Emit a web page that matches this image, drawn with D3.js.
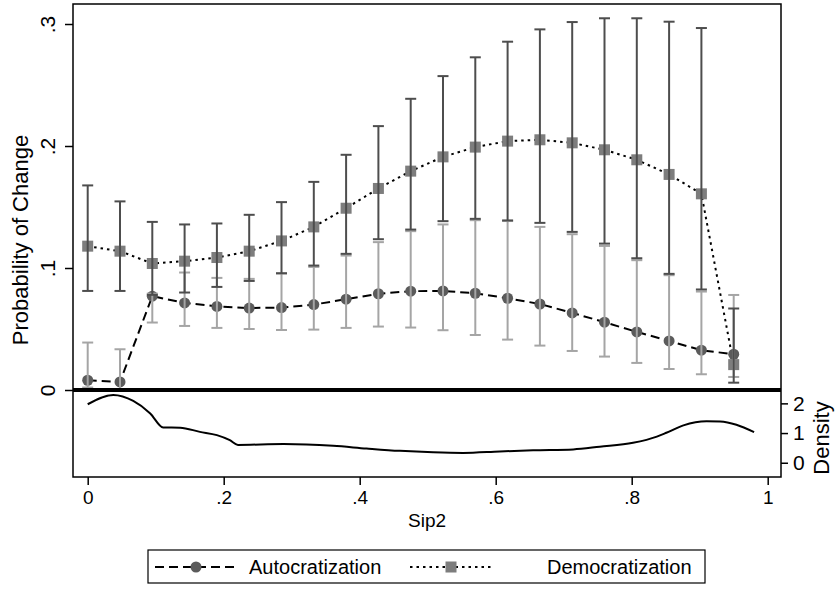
<!DOCTYPE html>
<html>
<head>
<meta charset="utf-8">
<script src="https://cdn.jsdelivr.net/npm/d3@7/dist/d3.min.js"></script>
<style>
  body { margin: 0; background: #fff; }
  svg { font-family: "Liberation Sans", Arial, sans-serif; }
</style>
</head>
<body>
<svg class="chart"></svg>
<script>
// Predicted probabilities by Sip2
const sip2 = [0, .0475, .095, .1425, .19, .2375, .285, .3325, .38, .4275, .475,
  .5225, .57, .6175, .665, .7125, .76, .8075, .855, .9025, .95];

const autoc = [0.008, 0.0066, 0.0769, 0.0714, 0.0685, 0.0672, 0.0676, 0.070, 0.0744, 0.0789, 0.081,
  0.0812, 0.0793, 0.0752, 0.0705, 0.0632, 0.0556, 0.0476, 0.0402, 0.0326, 0.0293];
const autocLo = [0.002, 0.0005, 0.0553, 0.0525, 0.0509, 0.050, 0.0492, 0.0495, 0.0509, 0.052, 0.0512,
  0.049, 0.0451, 0.0413, 0.0364, 0.032, 0.0274, 0.0222, 0.0172, 0.0129, 0.0107];
const autocHi = [0.0389, 0.0334, 0.079, 0.0963, 0.0919, 0.0911, 0.0955, 0.1009, 0.1102, 0.1212, 0.1302,
  0.1357, 0.1392, 0.1385, 0.1337, 0.1277, 0.1181, 0.1064, 0.0941, 0.0807, 0.0779];

const demo = [0.1179, 0.1138, 0.1037, 0.1056, 0.1086, 0.1138, 0.1222, 0.1337, 0.149, 0.1652, 0.1794,
  0.1911, 0.1991, 0.204, 0.2051, 0.2026, 0.1969, 0.1887, 0.1767, 0.1608, 0.0208];
const demoLo = [0.0812, 0.0812, 0.078, 0.0799, 0.0845, 0.0894, 0.0957, 0.102, 0.1116, 0.1236, 0.1315,
  0.1384, 0.1403, 0.139, 0.137, 0.1296, 0.12, 0.108, 0.0952, 0.0824, 0.006];
const demoHi = [0.1677, 0.1546, 0.1378, 0.1357, 0.1365, 0.1436, 0.154, 0.1706, 0.1928, 0.2163, 0.2387,
  0.2573, 0.2727, 0.2855, 0.2956, 0.3016, 0.3047, 0.3047, 0.3019, 0.2967, 0.0668];

// Kernel density of Sip2
const densX = [0, 0.0376, 0.067, 0.092, 0.111, 0.136, 0.165, 0.19, 0.209, 0.221, 0.288, 0.361, 0.41,
  0.459, 0.508, 0.552, 0.606, 0.655, 0.714, 0.753, 0.802, 0.837, 0.851, 0.876, 0.91, 0.93, 0.954, 0.98];
const densY = [1.97, 2.28, 2.08, 1.66, 1.19, 1.18, 1.04, 0.93, 0.76, 0.6, 0.63, 0.57, 0.48,
  0.4, 0.35, 0.33, 0.38, 0.42, 0.45, 0.54, 0.67, 0.88, 1.01, 1.26, 1.4, 1.39, 1.28, 1.03];

const xTicks = [0, .2, .4, .6, .8, 1];
const xTickLabels = ['0', '.2', '.4', '.6', '.8', '1'];
const yTicks = [0, .1, .2, .3];
const yTickLabels = ['0', '.1', '.2', '.3'];
const densTicks = [0, 1, 2];

const series = [
  { name: 'Autocratization', y: autoc, lo: autocLo, hi: autocHi },
  { name: 'Democratization', y: demo, lo: demoLo, hi: demoHi }
];

const svgWidth = 835;
const svgHeight = 592;
const plotLeft = 73, plotRight = 781, plotTop = 4, plotMid = 390, plotBottom = 477;

const svg = d3.select('.chart')
  .attr('width', svgWidth)
  .attr('height', svgHeight);

const xScale = d3.scaleLinear().domain([0, 1]).range([87.7, 767.7]);
const yScale = d3.scaleLinear().domain([0, 0.3164]).range([plotMid, plotTop]);
const dScale = d3.scaleLinear().domain([-0.48, 2.45]).range([plotBottom, plotMid]);

const darkCI = '#4d4d4d';
const lightCI = '#a5a5a5';
const circleFill = '#5b5b5b';
const squareFill = '#7d7d7d';

// Connecting lines
const line = (s) => d3.line()
  .x((d, i) => xScale(sip2[i]))
  .y(d => yScale(d))(s);

svg.append('path')
  .attr('d', line(autoc))
  .attr('fill', 'none')
  .attr('stroke', 'black')
  .attr('stroke-width', 2)
  .attr('stroke-dasharray', '9 5');

svg.append('path')
  .attr('d', line(demo))
  .attr('fill', 'none')
  .attr('stroke', 'black')
  .attr('stroke-width', 2)
  .attr('stroke-dasharray', '2.5 4');

// Markers
svg.selectAll('circle.autoc')
  .data(autoc)
  .enter()
  .append('circle')
  .attr('class', 'autoc')
  .attr('cx', (d, i) => xScale(sip2[i]))
  .attr('cy', d => yScale(d))
  .attr('r', 5.5)
  .attr('fill', circleFill);

svg.selectAll('rect.demo')
  .data(demo)
  .enter()
  .append('rect')
  .attr('class', 'demo')
  .attr('x', (d, i) => xScale(sip2[i]) - 5.5)
  .attr('y', d => yScale(d) - 5.5)
  .attr('width', 11)
  .attr('height', 11)
  .attr('fill', squareFill);

// Confidence intervals (light for autocratization, dark for democratization)
function drawCI(s, color) {
  const g = svg.append('g').attr('stroke', color).attr('stroke-width', 2);
  s.lo.forEach((lo, i) => {
    const x = xScale(sip2[i]);
    g.append('line')
      .attr('x1', x).attr('x2', x)
      .attr('y1', yScale(lo)).attr('y2', yScale(s.hi[i]));
    [lo, s.hi[i]].forEach(v => {
      g.append('line')
        .attr('x1', x - 5.5).attr('x2', x + 5.5)
        .attr('y1', yScale(v)).attr('y2', yScale(v));
    });
  });
}
drawCI(series[0], lightCI);
drawCI(series[1], darkCI);

// Density curve in lower panel
svg.append('path')
  .datum(densX.map((x, i) => [x, densY[i]]))
  .attr('fill', 'none')
  .attr('stroke', 'black')
  .attr('stroke-width', 2)
  .attr('d', d3.line()
    .x(d => xScale(d[0]))
    .y(d => dScale(d[1]))
    .curve(d3.curveMonotoneX));

// Frame
svg.append('rect')
  .attr('x', plotLeft).attr('y', plotTop)
  .attr('width', plotRight - plotLeft).attr('height', plotBottom - plotTop)
  .attr('fill', 'none')
  .attr('stroke', 'black')
  .attr('stroke-width', 1.5);

svg.append('line')
  .attr('x1', plotLeft).attr('x2', plotRight)
  .attr('y1', plotMid).attr('y2', plotMid)
  .attr('stroke', 'black')
  .attr('stroke-width', 4);

// Left axis (probability)
const yAxis = svg.append('g')
  .attr('transform', `translate(${plotLeft},0)`)
  .call(d3.axisLeft(yScale).tickValues(yTicks).tickSize(8).tickFormat((d, i) => yTickLabels[i]));
yAxis.select('.domain').remove();
yAxis.selectAll('line').attr('stroke', 'black').attr('stroke-width', 1.5);
yAxis.selectAll('.tick text')
  .attr('font-size', '21px')
  .attr('fill', 'black')
  .attr('text-anchor', 'middle')
  .attr('x', 0).attr('y', 0).attr('dy', 0)
  .attr('transform', 'translate(-18,0) rotate(-90)');

svg.append('text')
  .attr('transform', 'translate(28,240) rotate(-90)')
  .attr('text-anchor', 'middle')
  .attr('font-size', '22px')
  .text('Probability of Change');

// Right axis (density)
const dAxis = svg.append('g')
  .attr('transform', `translate(${plotRight},0)`)
  .call(d3.axisRight(dScale).tickValues(densTicks).tickSize(7).tickPadding(5).tickFormat(d3.format('d')));
dAxis.select('.domain').remove();
dAxis.selectAll('line').attr('stroke', 'black').attr('stroke-width', 1.5);
dAxis.selectAll('text').attr('font-size', '21px').attr('fill', 'black');

svg.append('text')
  .attr('transform', 'translate(829,438) rotate(-90)')
  .attr('text-anchor', 'middle')
  .attr('font-size', '22px')
  .text('Density');

// Bottom axis (Sip2)
const xAxis = svg.append('g')
  .attr('transform', `translate(0,${plotBottom})`)
  .call(d3.axisBottom(xScale).tickValues(xTicks).tickSize(8).tickPadding(6).tickFormat((d, i) => xTickLabels[i]));
xAxis.select('.domain').remove();
xAxis.selectAll('line').attr('stroke', 'black').attr('stroke-width', 1.5);
xAxis.selectAll('text').attr('font-size', '19px').attr('fill', 'black');

svg.append('text')
  .attr('x', (plotLeft + plotRight) / 2)
  .attr('y', 527)
  .attr('text-anchor', 'middle')
  .attr('font-size', '19px')
  .text('Sip2');

// Legend
const legend = svg.append('g');
legend.append('rect')
  .attr('x', 148).attr('y', 550)
  .attr('width', 557).attr('height', 33)
  .attr('fill', 'white')
  .attr('stroke', 'black')
  .attr('stroke-width', 1.2);

const legY = 567;
legend.append('line')
  .attr('x1', 155).attr('x2', 237).attr('y1', legY).attr('y2', legY)
  .attr('stroke', 'black').attr('stroke-width', 2).attr('stroke-dasharray', '9 5');
legend.append('circle')
  .attr('cx', 196).attr('cy', legY).attr('r', 5.5).attr('fill', circleFill);
legend.append('text')
  .attr('x', 249).attr('y', legY + 7)
  .attr('font-size', '20px')
  .text(series[0].name);

legend.append('line')
  .attr('x1', 410).attr('x2', 493).attr('y1', legY).attr('y2', legY)
  .attr('stroke', 'black').attr('stroke-width', 2).attr('stroke-dasharray', '2.5 4');
legend.append('rect')
  .attr('x', 451 - 5.5).attr('y', legY - 5.5).attr('width', 11).attr('height', 11)
  .attr('fill', squareFill);
legend.append('text')
  .attr('x', 547).attr('y', legY + 7)
  .attr('font-size', '20px')
  .text(series[1].name);
</script>
</body>
</html>
